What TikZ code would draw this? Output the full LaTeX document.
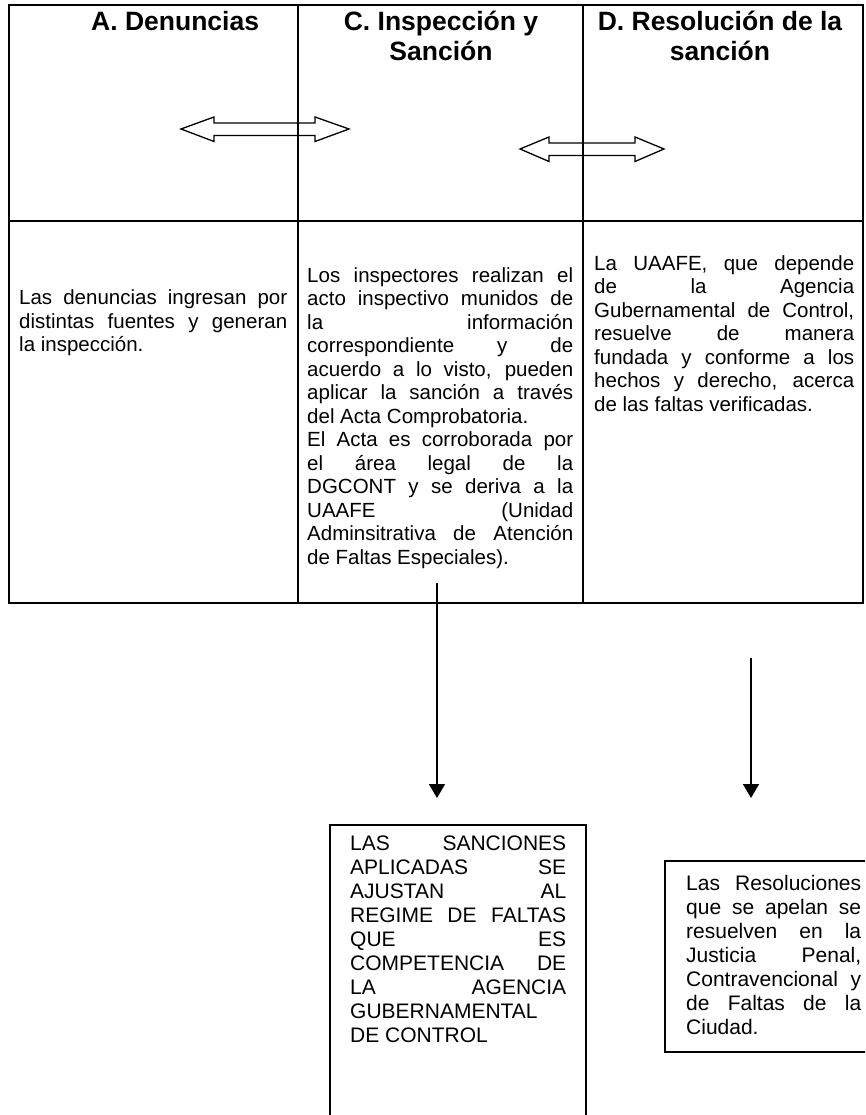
\documentclass[tikz,border=0pt]{standalone}
\usepackage{fontspec}
\setmainfont{Liberation Sans}
\usetikzlibrary{arrows.meta}
\newcommand\jline[1]{\makebox[\linewidth][s]{#1}\\}
\begin{document}
\begin{tikzpicture}[x=1pt,y=-1pt,
  tline/.style={line width=2pt},
  hdr/.style={inner sep=0pt, font=\fontsize{26.5}{30}\selectfont\bfseries},
  body/.style={inner sep=0pt, anchor=base west, font=\fontsize{20.5}{23.5}\selectfont},
  boxtext/.style={inner sep=0pt, anchor=base west, font=\fontsize{21}{24}\selectfont},
  conn/.style={line width=1.6pt, -{Triangle[width=16pt,length=14pt]}},
  dbl/.style={line width=1.3pt, line join=miter},
  boxline/.style={line width=1.3pt}]
\useasboundingbox (0,0) rectangle (865,1115);
\clip (0,0) rectangle (865,1115);
% table
\draw[tline] (9,5) rectangle (863,603);
\draw[tline] (9,221) -- (863,221);
\draw[tline] (298,5) -- (298,603);
\draw[tline] (583,5) -- (583,603);
% headers
\node[hdr, anchor=base west] (hA) at (91,31) {A. Denuncias};
\node[hdr, anchor=base] (hC) at (441,31) {\parbox[t]{250pt}{\centering C. Inspección y\\Sanción}};
\node[hdr, anchor=base] (hD) at (720,31) {\parbox[t]{275pt}{\centering D. Resolución de la\\sanción}};
% double arrows
\draw[dbl] (181,129) -- (214,117) -- (214,123) -- (315,123) -- (315,117) -- (349,129)
  -- (315,141.5) -- (315,135.5) -- (214,135.5) -- (214,141.5) -- cycle;
\draw[dbl] (520,149) -- (549,137) -- (549,143) -- (635,143) -- (635,137) -- (664,149)
  -- (635,161.5) -- (635,155.5) -- (549,155.5) -- (549,161.5) -- cycle;
% body texts
\node[body] (t1) at (19,304.5) {\parbox[t]{268pt}{%
\jline{Las denuncias ingresan por}%
\jline{distintas fuentes y generan}%
la inspección.}};
\node[body] (t2) at (307,282) {\parbox[t]{266pt}{%
\jline{Los inspectores realizan el}%
\jline{acto inspectivo munidos de}%
\jline{la información}%
\jline{correspondiente y de}%
\jline{acuerdo a lo visto, pueden}%
\jline{aplicar la sanción a través}%
del Acta Comprobatoria.\\
\jline{El Acta es corroborada por}%
\jline{el área legal de la}%
\jline{DGCONT y se deriva a la}%
\jline{UAAFE (Unidad}%
\jline{Adminsitrativa de Atención}%
de Faltas Especiales).}};
\node[body] (t3) at (594,270) {\parbox[t]{260pt}{%
\jline{La UAAFE, que depende}%
\jline{de la Agencia}%
\jline{Gubernamental de Control,}%
\jline{resuelve de manera}%
\jline{fundada y conforme a los}%
\jline{hechos y derecho, acerca}%
de las faltas verificadas.}};
% bottom boxes
\draw[boxline] (330,825) rectangle (586,1140);
\draw[boxline] (665,861) rectangle (880,1052);
\node[boxtext] (b1) at (350,850) {\parbox[t]{216pt}{%
\jline{LAS SANCIONES}%
\jline{APLICADAS SE}%
\jline{AJUSTAN AL}%
\jline{REGIME DE FALTAS}%
\jline{QUE ES}%
\jline{COMPETENCIA DE}%
\jline{LA AGENCIA}%
GUBERNAMENTAL\\
DE CONTROL}};
\node[boxtext] (b2) at (686,890) {\parbox[t]{175pt}{%
\jline{Las Resoluciones}%
\jline{que se apelan se}%
\jline{resuelven en la}%
\jline{Justicia Penal,}%
\jline{Contravencional y}%
\jline{de Faltas de la}%
Ciudad.}};
% vertical arrows
\coordinate (a1s) at (437,583);
\coordinate (a1e) at (437,798);
\coordinate (a2s) at (751,658);
\coordinate (a2e) at (751,798);
\draw[conn] (a1s) -- (a1e);
\draw[conn] (a2s) -- (a2e);
\end{tikzpicture}
\end{document}
